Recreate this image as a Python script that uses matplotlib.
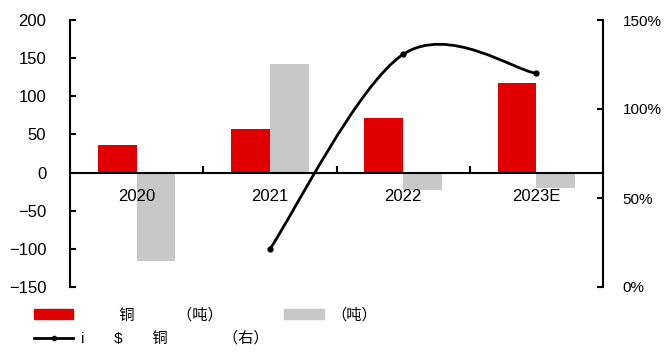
import numpy as np
import matplotlib; matplotlib.use("Agg")
import matplotlib.pyplot as plt
from matplotlib.path import Path
from matplotlib.patches import PathPatch, Patch
from matplotlib.lines import Line2D
from matplotlib.ticker import FuncFormatter

plt.rcParams['font.family'] = ['Liberation Sans', 'Noto Sans CJK SC', 'DejaVu Sans']

years = ["2020", "2021", "2022", "2023E"]
red_vals = [36, 57, 72, 118]
gray_vals = [-116, 142, -23, -20]
line_years = [1, 2, 3]          # index into years
line_vals = [21.3, 130.7, 120.0]  # %

labels = ["         铜          （吨）", "（吨）", "i       $       铜             （右）"]

RED = "#E00000"; GRAY = "#C8C8C8"

fig = plt.figure(figsize=(6.65, 3.52), dpi=100)
ax = fig.add_axes([70/665, 1-287/352, 533/665, 267/352])
x = np.arange(len(years)); w = 0.29
ax.bar(x - w/2, red_vals, w, color=RED, zorder=1)
ax.bar(x + w/2, gray_vals, w, color=GRAY, zorder=1)
ax.set_axisbelow(False)
ax.set_xlim(-0.5, len(years) - 0.5)
ax.set_ylim(-150, 200)
ax.set_yticks(range(-150, 201, 50))
ax.spines['top'].set_visible(False)
ax.spines['right'].set_visible(False)
ax.spines['bottom'].set_position(('data', 0))
ax.spines['bottom'].set_linewidth(1.5)
ax.spines['left'].set_linewidth(1.5)
ax.tick_params(axis='y', direction='in', length=4, width=1.5, labelsize=12, pad=17)
ax.set_xticks(np.arange(-0.5, len(years)), minor=False)
ax.set_xticklabels([])
ax.set_xticks(x, minor=True)
ax.set_xticklabels(years, minor=True)
ax.tick_params(axis='x', which='major', direction='in', length=5, width=1.5)
ax.tick_params(axis='x', which='minor', length=0, labelsize=12, pad=12)

ax2 = ax.twinx()
ax2.set_ylim(0, 150)
ax2.set_yticks([0, 50, 100, 150])
ax2.yaxis.set_major_formatter(FuncFormatter(lambda v, p: f"{v:.0f}%"))
for s in ['top', 'left', 'bottom']: ax2.spines[s].set_visible(False)
ax2.spines['right'].set_linewidth(1.5)
ax2.tick_params(axis='y', direction='in', length=4, width=1.5, labelsize=11, pad=14)

# smoothed line (Excel-style bezier through points)
P = np.column_stack([line_years, line_vals]).astype(float)
k = 0.17
verts = [P[0]]; codes = [Path.MOVETO]
for i in range(len(P) - 1):
    p0 = P[max(i - 1, 0)]; p1 = P[i]; p2 = P[i + 1]; p3 = P[min(i + 2, len(P) - 1)]
    verts += [p1 + (p2 - p0) * k, p2 - (p3 - p1) * k, p2]
    codes += [Path.CURVE4] * 3
ax2.add_patch(PathPatch(Path(verts, codes), fill=False, lw=2, color='black', zorder=3))
ax2.plot(line_years, line_vals, 'o', color='black', ms=3.5, zorder=4)

handles = [Patch(color=RED), Line2D([], [], color='black', lw=2, marker='o', ms=3), Patch(color=GRAY)]
leg = fig.legend(handles, [labels[0], labels[2], labels[1]], ncol=2, frameon=False,
                 loc='upper left', bbox_to_anchor=(0.03, 0.165), fontsize=11,
                 handlelength=2.6, handleheight=0.6, columnspacing=1.0, labelspacing=0.6,
                 handletextpad=0.5)

fig.savefig("out.png", dpi=100)
